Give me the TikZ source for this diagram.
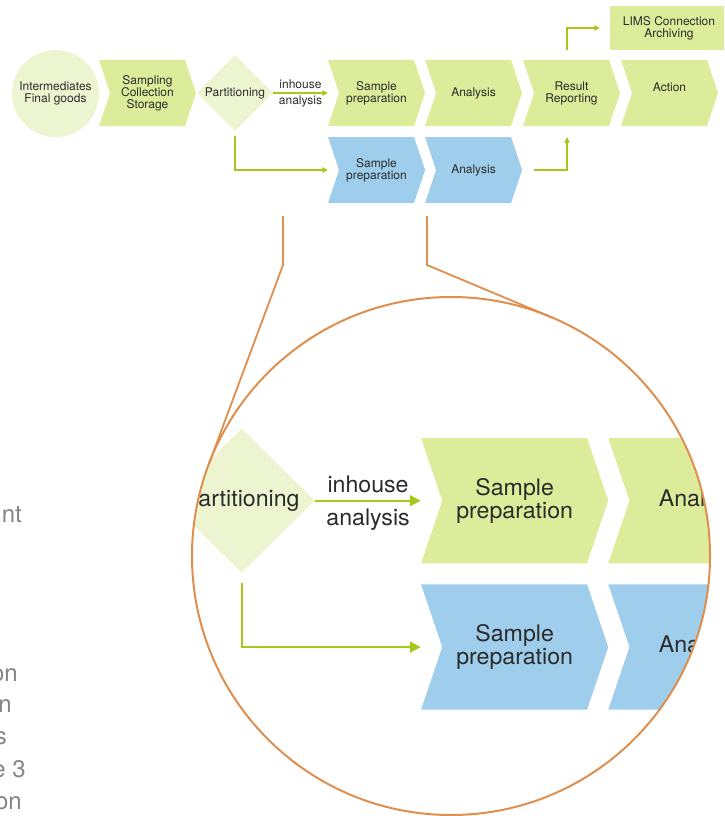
\documentclass[tikz,border=0pt]{standalone}
\usepackage{fontspec}
\setmainfont{TeX Gyre Heros}
\usetikzlibrary{arrows.meta,shapes.geometric}
\definecolor{chevgreen}{HTML}{DDEC9A}
\definecolor{palegreen}{HTML}{EDF5D0}
\definecolor{chevblue}{HTML}{9ECEEB}
\definecolor{arrowgreen}{HTML}{A5C81A}
\definecolor{lensorange}{HTML}{DE8F4F}
\definecolor{labeltext}{HTML}{2B2B2B}
\definecolor{pagetext}{HTML}{858585}

\newcommand\chevron[5]{% name, left x, top y, colour, text
  \fill[#4] (#2,#3) -- ++(86,0) -- ++(11,33) -- ++(-11,33) -- ++(-86,0) -- ++(11,-33) -- cycle;
  \node[lbl, minimum width=97pt, minimum height=66pt] (#1) at (#2+48.5,#3+33) {#5};}

\newcommand\flowchart{%
  \node[lbl, circle, fill=palegreen, minimum size=87pt] (goods) at (55.5,93.5) {Intermediates\\Final goods};
  \chevron{sampling}{99}{60}{chevgreen}{Sampling\\Collection\\Storage}
  \node[diamond, aspect=1, fill=palegreen, minimum width=76pt, minimum height=76pt, inner sep=0pt] (part) at (235,93) {};
  \node[lbl] (parttext) at (part.center) {Partitioning};
  \chevron{prepA}{328}{60}{chevgreen}{Sample\\preparation}
  \chevron{anaA}{425}{60}{chevgreen}{Analysis}
  \chevron{report}{523}{60}{chevgreen}{Result\\Reporting}
  \chevron{action}{621}{60}{chevgreen}{}
  \node[lbl] (actiontext) at ([yshift=6pt]action.center) {Action};
  \chevron{prepB}{328}{137}{chevblue}{Sample\\preparation}
  \chevron{anaB}{425}{137}{chevblue}{Analysis}
  \node[lbl, fill=chevgreen, minimum width=118pt, minimum height=44pt] (lims) at (669,28) {LIMS Connection\\Archiving};
  \draw[flowarrow] (part.east) -- node[lbl, above=\labgapA] (inh) {inhouse} node[lbl, below=\labgapB] (ana) {analysis} (prepA.west);
  \draw[flowarrow, shorten <=\gapS] (part.south) |- (prepB.west);
  \draw[flowarrow, shorten <=12pt, shorten >=11pt] (anaB.east) -| ([xshift=-4.5pt]report.south);
  \draw[flowarrow, shorten <=10pt, shorten >=10pt] ([xshift=-4.5pt]report.north) |- (lims.west);
}

\begin{document}
\begin{tikzpicture}[x=1pt, y=-1pt,
  lbl/.style={font=\fontsize{12}{12}\selectfont, text=labeltext, align=center, inner sep=0pt},
  flowarrow/.style={draw=arrowgreen, line width=\flowlw, -{Triangle[length=\tipl, width=\tipl]}},
  callout/.style={draw=lensorange, line width=1.8pt},
  pagefont/.style={font=\fontsize{24}{24}\selectfont, text=pagetext, anchor=base east, inner sep=0pt}]
\clip (0,0) rectangle (724,816);
\def\flowlw{1.2pt}\def\tipl{5.5pt}\def\gapS{5pt}\def\labgapA{4pt}\def\labgapB{2pt}
\flowchart
\begin{scope}
  \clip (451,556) circle [radius=259];
  \begin{scope}[shift={(-212,324)}, xscale=1.93, yscale=1.9, transform shape, name prefix=z-]
    \def\flowlw{2.2pt}\def\tipl{11pt}\def\gapS{10pt}\def\labgapA{3pt}\def\labgapB{3pt}
    \flowchart
  \end{scope}
\end{scope}
\node[circle, draw=lensorange, line width=2pt, minimum size=518pt, inner sep=0pt, outer sep=0pt] (lens) at (451,556) {};
\coordinate (c1) at (283,216);
\coordinate (c1b) at (283,265);
\coordinate (c2) at (427,216);
\coordinate (c2b) at (427,265);
\draw[callout] (c1) -- (c1b) -- (lens.159.6);
\draw[callout] (c2) -- (c2b) -- (lens.67.2);
\node[pagefont] (p1) at (22,522) {nt};
\node[pagefont] (p2) at (18,681) {on};
\node[pagefont] (p3) at (12,712) {n};
\node[pagefont] (p4) at (7,744) {s};
\node[pagefont] (p5) at (26,777) {e 3};
\node[pagefont] (p6) at (22,809) {on};
\end{tikzpicture}
\end{document}
